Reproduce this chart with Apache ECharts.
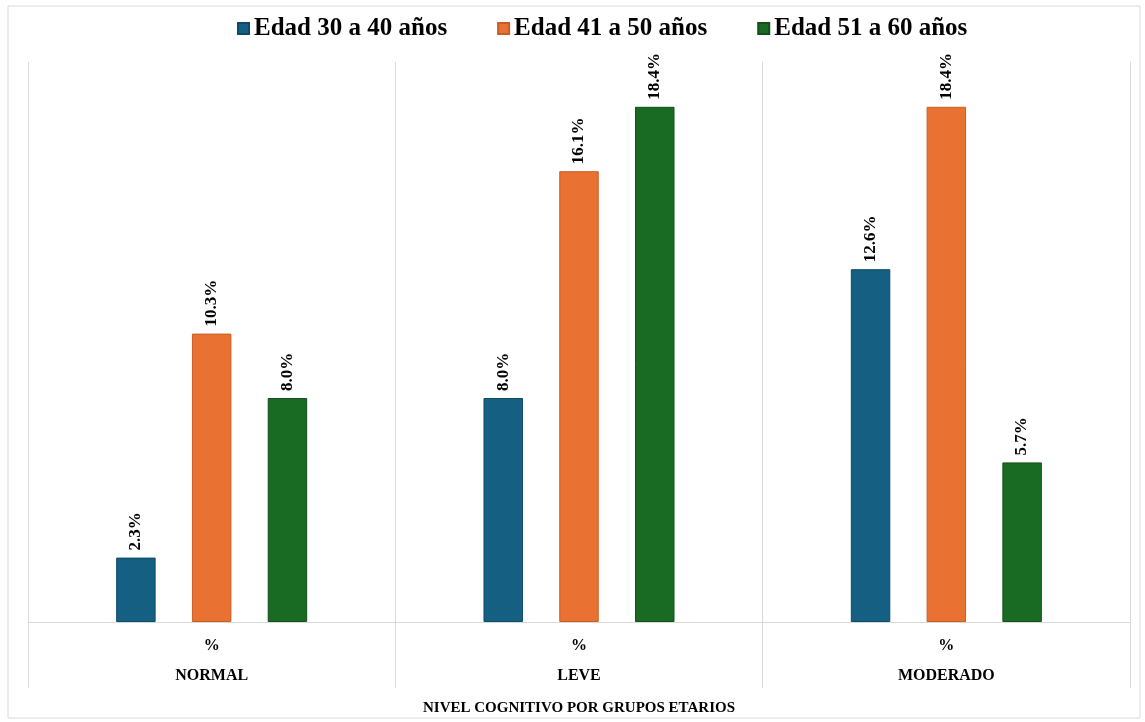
<!DOCTYPE html>
<html>
<head>
<meta charset="utf-8">
<script src="https://cdn.jsdelivr.net/npm/echarts@6/dist/echarts.min.js"></script>
<style>
html, body { margin: 0; padding: 0; background: #fff; }
#chart { width: 1145px; height: 722px; }
</style>
</head>
<body>
<div id="chart"></div>
<script>
// datos
var niveles = ['NORMAL', 'LEVE', 'MODERADO'];
var grupos = ['Edad 30 a 40 años', 'Edad 41 a 50 años', 'Edad 51 a 60 años'];
var edad30a40 = [2.3, 8.0, 12.6];
var edad41a50 = [10.3, 16.1, 18.4];
var edad51a60 = [8.0, 18.4, 5.7];
var colores = ['#156082', '#E97132', '#196B24'];
var bordes = ['#0f4a66', '#c85d24', '#124f1a'];

var fuente = '"Liberation Serif", "Times New Roman", serif';

function serie(nombre, datos, i) {
	return {
		name: nombre,
		type: 'bar',
		data: datos,
		barGap: '92%',
		barCategoryGap: '48%',
		itemStyle: {
			color: colores[i],
			borderColor: bordes[i],
			borderWidth: 1
		},
		label: {
			show: true,
			position: 'top',
			rotate: 90,
			align: 'left',
			verticalAlign: 'middle',
			distance: 7,
			fontFamily: fuente,
			fontWeight: 'bold',
			fontSize: 17,
			color: '#000',
			formatter: function(p) {
				return p.value.toFixed(1) + '%';
			}
		}
	};
}

var myChart = echarts.init(document.getElementById('chart'));
var option = {
	animation: false,
	backgroundColor: '#fff',
	graphic: [{
		type: 'rect',
		shape: {x: 8, y: 6, width: 1132, height: 712},
		style: {fill: 'none', stroke: '#d9d9d9', lineWidth: 1},
		silent: true
	}],
	legend: {
		top: 11,
		left: 232,
		itemWidth: 11,
		itemHeight: 11,
		itemGap: 50,
		icon: 'rect',
		textStyle: {
			fontFamily: fuente,
			fontWeight: 'bold',
			fontSize: 25,
			color: '#000'
		},
		data: grupos
	},
	grid: {
		left: 28,
		right: 15,
		top: 62,
		bottom: 100,
		containLabel: false,
		outerBoundsMode: 'none'
	},
	xAxis: {
		type: 'category',
		data: niveles,
		name: 'NIVEL COGNITIVO POR GRUPOS ETARIOS',
		nameLocation: 'middle',
		nameGap: 79,
		nameTextStyle: {
			fontFamily: fuente,
			fontWeight: 'bold',
			fontSize: 15,
			color: '#000'
		},
		axisLine: {lineStyle: {color: '#d9d9d9'}},
		axisTick: {
			show: true,
			length: 66,
			interval: 0,
			lineStyle: {color: '#d9d9d9'}
		},
		splitLine: {
			show: true,
			interval: 0,
			lineStyle: {color: '#d9d9d9'}
		},
		axisLabel: {
			interval: 0,
			margin: 9,
			formatter: function(v) {
				return '{p|%}\n{c|' + v + '}';
			},
			rich: {
				p: {fontFamily: fuente, fontWeight: 'bold', fontSize: 16, color: '#000', lineHeight: 30},
				c: {fontFamily: fuente, fontWeight: 'bold', fontSize: 16, color: '#000', lineHeight: 30}
			}
		}
	},
	yAxis: {
		type: 'value',
		min: 0,
		max: 20,
		show: false,
		splitLine: {show: false}
	},
	series: [
		serie(grupos[0], edad30a40, 0),
		serie(grupos[1], edad41a50, 1),
		serie(grupos[2], edad51a60, 2)
	]
};
myChart.setOption(option);
</script>
</body>
</html>
